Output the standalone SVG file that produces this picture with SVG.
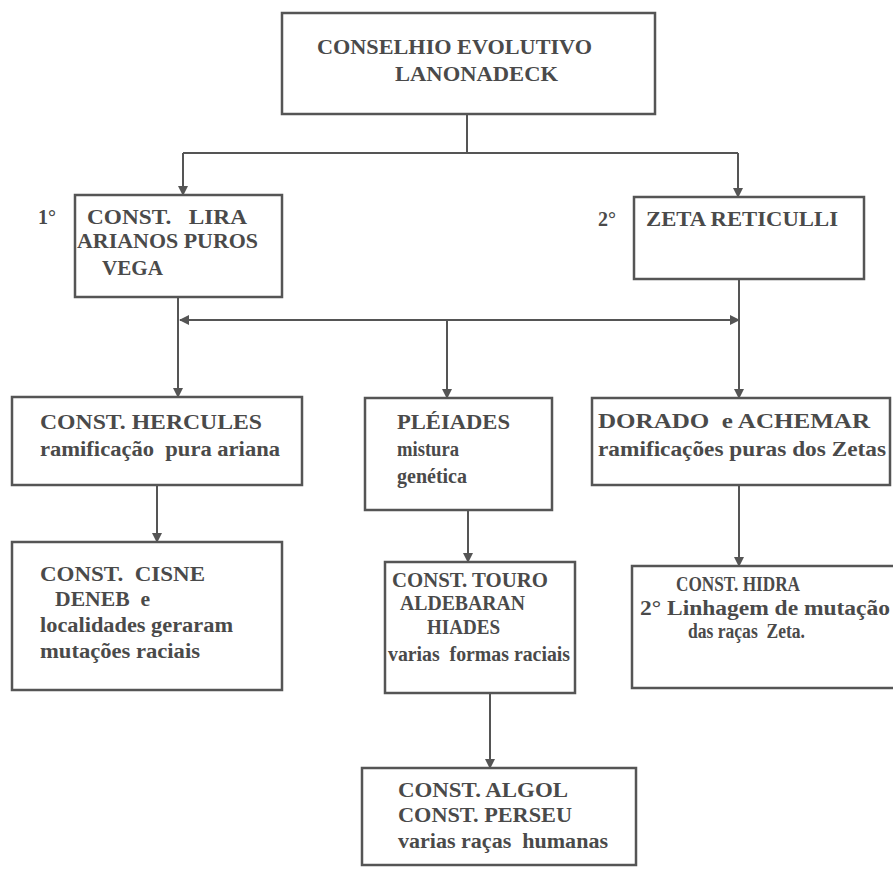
<svg xmlns="http://www.w3.org/2000/svg" width="893" height="869" viewBox="0 0 893 869">
<defs>
<marker id="ah" viewBox="0 0 10 10" refX="9" refY="5" markerWidth="5" markerHeight="5" orient="auto" markerUnits="strokeWidth">
<path d="M0,0 L10,5 L0,10 z" fill="#555"/>
</marker>
<style>
.box{fill:#fff;stroke:#555;stroke-width:2.5}
.t{font-family:"Liberation Serif","Times New Roman",serif;font-weight:bold;font-size:20px;fill:#4a4a4a}
.c{fill:none;stroke:#555;stroke-width:2}
</style>
</defs>
<rect width="893" height="869" fill="#fff"/>
<g id="connectors">
<path class="c" d="M467,114 V153"/>
<path class="c" d="M183,153 H738"/>
<path class="c" d="M183,153 V195" marker-end="url(#ah)"/>
<path class="c" d="M738,153 V197" marker-end="url(#ah)"/>
<path class="c" d="M447,320 H180" marker-end="url(#ah)"/>
<path class="c" d="M447,320 H739" marker-end="url(#ah)"/>
<path class="c" d="M178,297 V397" marker-end="url(#ah)"/>
<path class="c" d="M447,320 V398" marker-end="url(#ah)"/>
<path class="c" d="M739,279 V398" marker-end="url(#ah)"/>
<path class="c" d="M157,485 V542" marker-end="url(#ah)"/>
<path class="c" d="M468,510 V562" marker-end="url(#ah)"/>
<path class="c" d="M739,485 V566" marker-end="url(#ah)"/>
<path class="c" d="M490,693 V768" marker-end="url(#ah)"/>
</g>
<g id="n-conselho">
<rect class="box" x="282" y="13" width="373" height="101"/>
<text class="t" x="317" y="54" textLength="275" lengthAdjust="spacingAndGlyphs">CONSELHIO EVOLUTIVO</text>
<text class="t" x="395" y="81" textLength="163" lengthAdjust="spacingAndGlyphs">LANONADECK</text>
</g>
<g id="n-lira">
<text class="t" x="38" y="224">1°</text>
<rect class="box" x="75" y="195" width="207" height="102"/>
<text class="t" x="87" y="224" xml:space="preserve" textLength="160" lengthAdjust="spacingAndGlyphs">CONST.   LIRA</text>
<text class="t" x="77" y="248" textLength="181" lengthAdjust="spacingAndGlyphs">ARIANOS PUROS</text>
<text class="t" x="102" y="275" textLength="61" lengthAdjust="spacingAndGlyphs">VEGA</text>
</g>
<g id="n-zeta">
<text class="t" x="598" y="226">2°</text>
<rect class="box" x="634" y="197" width="230" height="82"/>
<text class="t" x="646" y="226" textLength="192" lengthAdjust="spacingAndGlyphs">ZETA RETICULLI</text>
</g>
<g id="n-hercules">
<rect class="box" x="12" y="397" width="290" height="88"/>
<text class="t" x="40" y="429" textLength="222" lengthAdjust="spacingAndGlyphs">CONST. HERCULES</text>
<text class="t" x="40" y="456" xml:space="preserve" textLength="240" lengthAdjust="spacingAndGlyphs">ramificação  pura ariana</text>
</g>
<g id="n-pleiades">
<rect class="box" x="365" y="398" width="187" height="112"/>
<text class="t" x="397" y="429" textLength="113" lengthAdjust="spacingAndGlyphs">PLÉIADES</text>
<text class="t" x="397" y="456" textLength="62" lengthAdjust="spacingAndGlyphs">mistura</text>
<text class="t" x="397" y="483" textLength="70" lengthAdjust="spacingAndGlyphs">genética</text>
</g>
<g id="n-dorado">
<rect class="box" x="592" y="398" width="298" height="87"/>
<text class="t" x="598" y="428" xml:space="preserve" textLength="272" lengthAdjust="spacingAndGlyphs">DORADO  e ACHEMAR</text>
<text class="t" x="598" y="456" textLength="288" lengthAdjust="spacingAndGlyphs">ramificações puras dos Zetas</text>
</g>
<g id="n-cisne">
<rect class="box" x="12" y="542" width="270" height="148"/>
<text class="t" x="40" y="581" xml:space="preserve" textLength="165" lengthAdjust="spacingAndGlyphs">CONST.  CISNE</text>
<text class="t" x="55" y="606" xml:space="preserve" textLength="95" lengthAdjust="spacingAndGlyphs">DENEB  e</text>
<text class="t" x="40" y="632" textLength="193" lengthAdjust="spacingAndGlyphs">localidades geraram</text>
<text class="t" x="40" y="658" textLength="160" lengthAdjust="spacingAndGlyphs">mutações raciais</text>
</g>
<g id="n-touro">
<rect class="box" x="385" y="562" width="190" height="131"/>
<text class="t" x="392" y="587" textLength="156" lengthAdjust="spacingAndGlyphs">CONST. TOURO</text>
<text class="t" x="400" y="610" textLength="125" lengthAdjust="spacingAndGlyphs">ALDEBARAN</text>
<text class="t" x="427" y="634" textLength="73" lengthAdjust="spacingAndGlyphs">HIADES</text>
<text class="t" x="388" y="661" xml:space="preserve" textLength="182" lengthAdjust="spacingAndGlyphs">varias  formas raciais</text>
</g>
<g id="n-hidra">
<rect class="box" x="632" y="566" width="263" height="122"/>
<text class="t" x="676" y="591" textLength="124" lengthAdjust="spacingAndGlyphs">CONST. HIDRA</text>
<text class="t" x="640" y="615" textLength="250" lengthAdjust="spacingAndGlyphs">2° Linhagem de mutação</text>
<text class="t" x="688" y="638" xml:space="preserve" textLength="117" lengthAdjust="spacingAndGlyphs">das raças  Zeta.</text>
</g>
<g id="n-algol">
<rect class="box" x="362" y="768" width="274" height="97"/>
<text class="t" x="398" y="797" textLength="170" lengthAdjust="spacingAndGlyphs">CONST. ALGOL</text>
<text class="t" x="398" y="822" textLength="174" lengthAdjust="spacingAndGlyphs">CONST. PERSEU</text>
<text class="t" x="398" y="848" xml:space="preserve" textLength="210" lengthAdjust="spacingAndGlyphs">varias raças  humanas</text>
</g>
</svg>
